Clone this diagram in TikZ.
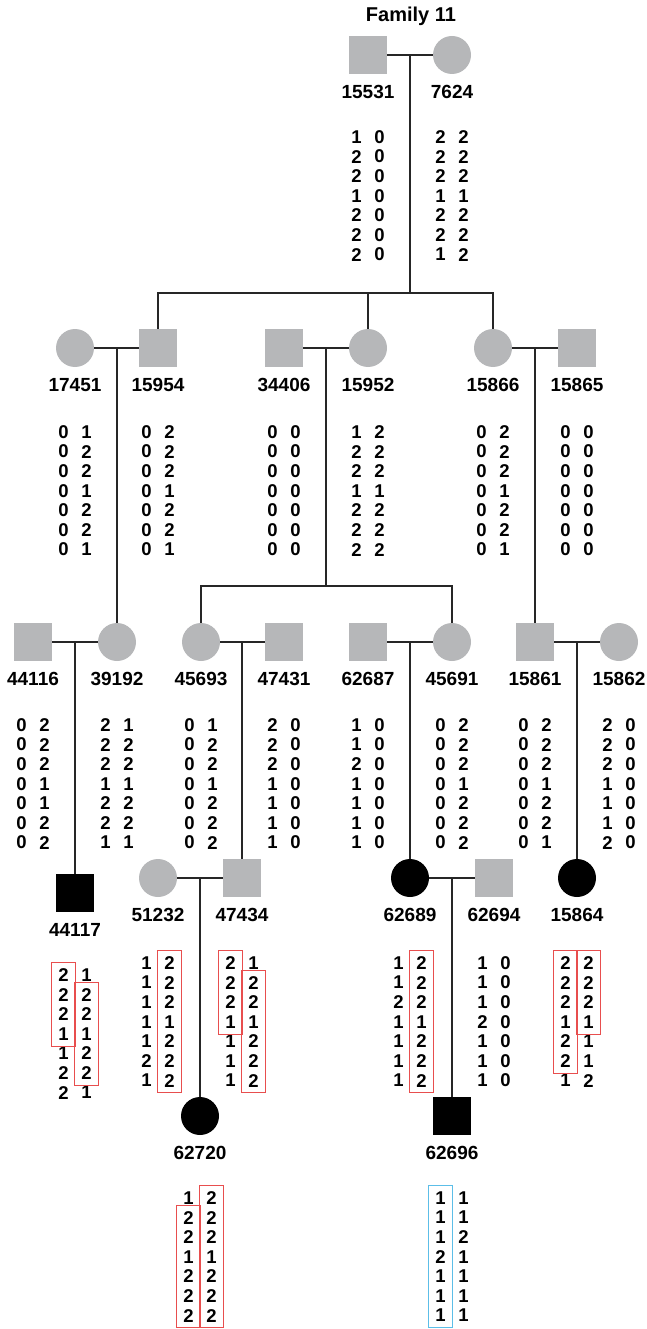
\documentclass[tikz,border=0pt]{standalone}
\usepackage{fontspec}
\setmainfont{Liberation Sans}
\usetikzlibrary{fit}
\definecolor{pgray}{RGB}{182,183,185}
\definecolor{hapred}{RGB}{232,78,78}
\definecolor{hapblue}{RGB}{92,190,232}

% genotype rows: name, centre x, first-row y, list of allele pairs
\newcommand\gtrows[4]{%
  \foreach \pa/\pb [count=\k] in {#4}{%
    \node[gt] (#1a\k) at ({#2-11.5},{#3+(\k-1)*19.6}) {\pa};
    \node[gt] (#1b\k) at ({#2+11.5},{#3+(\k-1)*19.6}) {\pb};
  }}

\begin{document}
\begin{tikzpicture}[x=1pt,y=-1pt,
  male/.style={rectangle,minimum size=38pt,inner sep=0pt,fill=pgray},
  female/.style={circle,minimum size=38pt,inner sep=0pt,fill=pgray},
  aff/.style={fill=black},
  lbl/.style={font=\fontsize{19}{19}\selectfont\bfseries,inner sep=0pt},
  gt/.style={font=\fontsize{18.5}{18.5}\selectfont\bfseries,inner sep=0pt,minimum width=20pt,minimum height=19pt},
  hap/.style={draw=hapred,line width=0.9pt,inner xsep=1.5pt,inner ysep=2.5pt},
  hapb/.style={draw=hapblue,line width=0.9pt,inner xsep=1.5pt,inner ysep=2.5pt},
  link/.style={draw=black!85,line width=1.2pt}]
\useasboundingbox (0,0) rectangle (646,1329);

\node[font=\fontsize{20}{20}\selectfont\bfseries,inner sep=0pt] (title) at (411,16) {Family 11};

% generation I
\node[male]   (n15531) at (368,55) {};
\node[female] (n7624)  at (452,55) {};
\coordinate (m1) at (410,55);
\coordinate (sib1) at (410,293);

% generation II
\node[female] (n17451) at (75,348) {};
\node[male]   (n15954) at (158,348) {};
\node[male]   (n34406) at (284,348) {};
\node[female] (n15952) at (368,348) {};
\node[female] (n15866) at (493,348) {};
\node[male]   (n15865) at (577,348) {};
\coordinate (m2) at (117,348);
\coordinate (m3) at (326,348);
\coordinate (m4) at (535,348);
\coordinate (sib3) at (326,586);

% generation III
\node[male]   (n44116) at (33,642) {};
\node[female] (n39192) at (117,642) {};
\node[female] (n45693) at (201,642) {};
\node[male]   (n47431) at (284,642) {};
\node[male]   (n62687) at (368,642) {};
\node[female] (n45691) at (452,642) {};
\node[male]   (n15861) at (535,642) {};
\node[female] (n15862) at (619,642) {};
\coordinate (m5) at (75,642);
\coordinate (m6) at (242,642);
\coordinate (m7) at (410,642);
\coordinate (m8) at (577,642);

% generation IV
\node[male,aff]   (n44117) at (75,893) {};
\node[female]     (n51232) at (158,878) {};
\node[male]       (n47434) at (242,878) {};
\node[female,aff] (n62689) at (410,878) {};
\node[male]       (n62694) at (494,878) {};
\node[female,aff] (n15864) at (577,878) {};
\coordinate (m9) at (200,878);
\coordinate (m10) at (452,878);

% generation V
\node[female,aff] (n62720) at (200,1116) {};
\node[male,aff]   (n62696) at (452,1116) {};

% marriages
\draw[link] (n15531.east) -- (n7624.west);
\draw[link] (n17451.east) -- (n15954.west);
\draw[link] (n34406.east) -- (n15952.west);
\draw[link] (n15866.east) -- (n15865.west);
\draw[link] (n44116.east) -- (n39192.west);
\draw[link] (n45693.east) -- (n47431.west);
\draw[link] (n62687.east) -- (n45691.west);
\draw[link] (n15861.east) -- (n15862.west);
\draw[link] (n51232.east) -- (n47434.west);
\draw[link] (n62689.east) -- (n62694.west);

% descent lines
\draw[link] (m1) -- (sib1);
\draw[link] (n15954.north) |- (sib1);
\draw[link] (n15866.north) |- (sib1);
\draw[link] (n15952.north) -- (n15952.north |- sib1);
\draw[link] (m3) -- (sib3);
\draw[link] (n45693.north) |- (sib3);
\draw[link] (n45691.north) |- (sib3);
\draw[link] (m2) -- (n39192.north);
\draw[link] (m4) -- (n15861.north);
\draw[link] (m5) -- (n44117.north);
\draw[link] (m6) -- (n47434.north);
\draw[link] (m7) -- (n62689.north);
\draw[link] (m8) -- (n15864.north);
\draw[link] (m9) -- (n62720.north);
\draw[link] (m10) -- (n62696.north);

% identifiers
\foreach \id in {15531,7624,17451,15954,34406,15952,15866,15865,
  44116,39192,45693,47431,62687,45691,15861,15862,
  44117,51232,47434,62689,62694,15864,62720,62696}
  \node[lbl] (l\id) at ([yshift=-37pt]n\id.center) {\id};

% genotypes
\gtrows{g15531}{368}{137}{1/0,2/0,2/0,1/0,2/0,2/0,2/0}
\gtrows{g7624}{452}{137}{2/2,2/2,2/2,1/1,2/2,2/2,1/2}
\gtrows{g17451}{75}{432}{0/1,0/2,0/2,0/1,0/2,0/2,0/1}
\gtrows{g15954}{158}{432}{0/2,0/2,0/2,0/1,0/2,0/2,0/1}
\gtrows{g34406}{284}{432}{0/0,0/0,0/0,0/0,0/0,0/0,0/0}
\gtrows{g15952}{368}{432}{1/2,2/2,2/2,1/1,2/2,2/2,2/2}
\gtrows{g15866}{493}{432}{0/2,0/2,0/2,0/1,0/2,0/2,0/1}
\gtrows{g15865}{577}{432}{0/0,0/0,0/0,0/0,0/0,0/0,0/0}
\gtrows{g44116}{33}{725}{0/2,0/2,0/2,0/1,0/1,0/2,0/2}
\gtrows{g39192}{117}{725}{2/1,2/2,2/2,1/1,2/2,2/2,1/1}
\gtrows{g45693}{201}{725}{0/1,0/2,0/2,0/1,0/2,0/2,0/2}
\gtrows{g47431}{284}{725}{2/0,2/0,2/0,1/0,1/0,1/0,1/0}
\gtrows{g62687}{368}{725}{1/0,1/0,2/0,1/0,1/0,1/0,1/0}
\gtrows{g45691}{452}{725}{0/2,0/2,0/2,0/1,0/2,0/2,0/2}
\gtrows{g15861}{535}{725}{0/2,0/2,0/2,0/1,0/2,0/2,0/1}
\gtrows{g15862}{619}{725}{2/0,2/0,2/0,1/0,1/0,1/0,2/0}
\gtrows{g44117}{75}{975}{2/1,2/2,2/2,1/1,1/2,2/2,2/1}
\gtrows{g51232}{158}{963}{1/2,1/2,1/2,1/1,1/2,2/2,1/2}
\gtrows{g47434}{242}{963}{2/1,2/2,2/2,1/1,1/2,1/2,1/2}
\gtrows{g62689}{410}{963}{1/2,1/2,2/2,1/1,1/2,1/2,1/2}
\gtrows{g62694}{494}{963}{1/0,1/0,1/0,2/0,1/0,1/0,1/0}
\gtrows{g15864}{577}{963}{2/2,2/2,2/2,1/1,2/1,2/1,1/2}
\gtrows{g62720}{200}{1198}{1/2,2/2,2/2,1/1,2/2,2/2,2/2}
\gtrows{g62696}{452}{1198}{1/1,1/1,1/2,2/1,1/1,1/1,1/1}

% haplotype boxes
\node[hap,fit=(g44117a1)(g44117a4)] (h1) {};
\node[hap,fit=(g44117b2)(g44117b6)] (h2) {};
\node[hap,fit=(g51232b1)(g51232b7)] (h3) {};
\node[hap,fit=(g47434a1)(g47434a4)] (h4) {};
\node[hap,fit=(g47434b2)(g47434b7)] (h5) {};
\node[hap,fit=(g62689b1)(g62689b7)] (h6) {};
\node[hap,fit=(g15864a1)(g15864a6)] (h7) {};
\node[hap,fit=(g15864b1)(g15864b4)] (h8) {};
\node[hap,fit=(g62720b1)(g62720b7)] (h9) {};
\node[hap,fit=(g62720a2)(g62720a7)] (h10) {};
\node[hapb,fit=(g62696a1)(g62696a7)] (h11) {};
\end{tikzpicture}
\end{document}
